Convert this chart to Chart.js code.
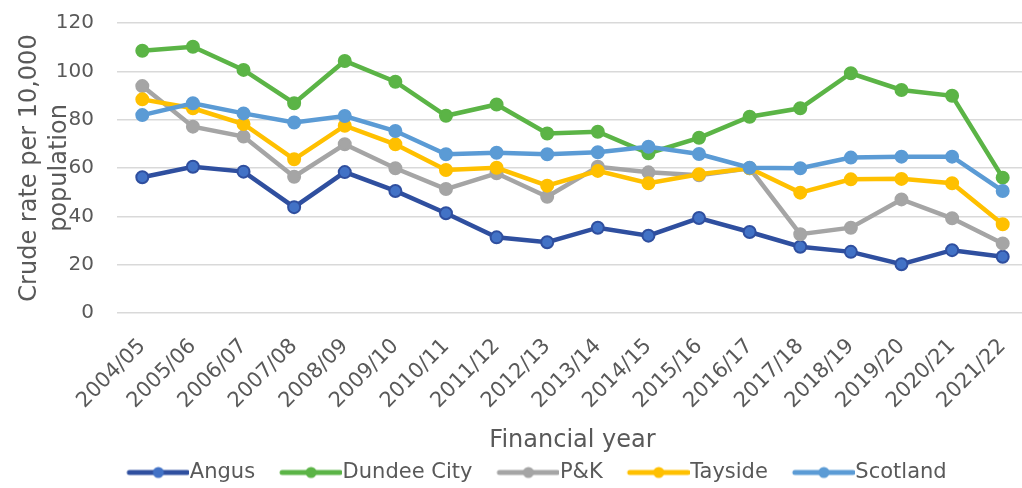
<!DOCTYPE html>
<html>
<head>
<meta charset="utf-8">
<script src="https://cdn.jsdelivr.net/npm/chart.js@4.4.0/dist/chart.umd.min.js"></script>
<style>
  html, body { margin: 0; padding: 0; background: #fff; overflow: hidden; }
  #wrap { width: 1036px; height: 488px; }
</style>
</head>
<body>
<div id="wrap"><canvas id="myChart"></canvas></div>
<script>
var years = ['2004/05', '2005/06', '2006/07', '2007/08', '2008/09', '2009/10', '2010/11', '2011/12', '2012/13',
  '2013/14', '2014/15', '2015/16', '2016/17', '2017/18', '2018/19', '2019/20', '2020/21', '2021/22'];

var angus = [56.2, 60.5, 58.5, 43.8, 58.3, 50.5, 41.3, 31.3, 29.3, 35.3, 32.0, 39.3, 33.5, 27.4, 25.3, 20.2, 26.0, 23.3];
var dundee = [108.5, 110.2, 100.6, 86.8, 104.3, 95.7, 81.6, 86.3, 74.3, 75.0, 66.1, 72.5, 81.2, 84.7, 99.2, 92.3, 89.9, 56.0];
var pk = [93.9, 77.1, 73.0, 56.4, 69.8, 59.9, 51.3, 57.8, 48.1, 60.5, 58.2, 57.0, 59.9, 32.6, 35.3, 47.0, 39.2, 28.8];
var tayside = [88.4, 84.7, 78.2, 63.6, 77.5, 69.8, 59.2, 60.1, 52.7, 58.8, 53.7, 57.4, 59.9, 49.8, 55.3, 55.5, 53.7, 36.7];
var scotland = [81.9, 86.8, 82.6, 78.8, 81.5, 75.3, 65.7, 66.3, 65.7, 66.5, 68.8, 65.8, 60.1, 59.9, 64.3, 64.7, 64.7, 50.5];

var yTicks = [0, 20, 40, 60, 80, 100, 120];

var textColor = '#595959';
var fontName = "'DejaVu Sans', sans-serif";

// line + dot image used as the legend symbol (blank on the left, runs up to the text)
function legendIcon(lineColor, dotColor) {
    var c = document.createElement('canvas');
    c.width = 90;
    c.height = 14;
    var g = c.getContext('2d');
    g.strokeStyle = lineColor;
    g.lineWidth = 5;
    g.lineCap = 'round';
    g.beginPath();
    g.moveTo(30, 7);
    g.lineTo(88, 7);
    g.stroke();
    g.fillStyle = dotColor;
    g.beginPath();
    g.arc(59, 7, 5.5, 0, Math.PI * 2);
    g.fill();
    return c;
}

function series(label, values, line, dot, order) {
    return {
        label: label,
        data: values,
        borderColor: line,
        backgroundColor: dot,
        pointBackgroundColor: dot,
        pointBorderColor: line,
        pointBorderWidth: 2,
        pointRadius: 6,
        pointHoverRadius: 6,
        borderWidth: 4.5,
        tension: 0,
        order: order,
        icon: legendIcon(line, dot)
    };
}

// nudge the legend a little right and down, like the original
var legendNudge = {
    id: 'legendNudge',
    afterLayout: function(ch) {
        var lg = ch.legend;
        if (!lg) return;
        lg.left += 26;
        lg.top += 5;
        lg.bottom += 5;
    }
};

const ctxc = document.getElementById('myChart');
const chart = new Chart(ctxc, {
    type: 'line',
    data: {
        labels: years,
        datasets: [
            series('Angus', angus, '#2F4F9F', '#4272C6', 5),
            series('Dundee City', dundee, '#5BB446', '#5BB446', 4),
            series('P&K', pk, '#A5A5A5', '#A5A5A5', 3),
            series('Tayside', tayside, '#FFC000', '#FFC000', 2),
            series('Scotland', scotland, '#5B9BD5', '#5B9BD5', 1)
        ]
    },
    plugins: [legendNudge],
    options: {
        responsive: true,
        maintainAspectRatio: false,
        animation: false,
        layout: { padding: { top: 23, right: 6, bottom: 0, left: 0 } },
        scales: {
            x: {
                offset: true,
                grid: { display: false },
                border: { display: false },
                ticks: {
                    color: textColor,
                    font: { family: fontName, size: 21 },
                    minRotation: 45,
                    maxRotation: 45,
                    autoSkip: false,
                    padding: 13
                },
                title: {
                    display: true,
                    text: 'Financial year',
                    color: textColor,
                    font: { family: fontName, size: 24, lineHeight: 1.1 },
                    padding: { top: 0, bottom: -4 }
                },
                afterFit: function(scale) {
                    scale.height = 137;
                    scale.paddingTop = 0;
                    scale.paddingBottom = 0;
                }
            },
            y: {
                min: 0,
                max: 120,
                afterBuildTicks: function(scale) {
                    scale.ticks = yTicks.map(function(v) { return { value: v }; });
                },
                grid: { color: '#D9D9D9', lineWidth: 1.5, drawTicks: false },
                border: { display: false },
                ticks: {
                    color: textColor,
                    font: { family: fontName, size: 20 },
                    padding: 23
                },
                title: {
                    display: true,
                    text: ['Crude rate per 10,000', 'population'],
                    color: textColor,
                    font: { family: fontName, size: 24, lineHeight: 1.25 },
                    padding: { top: 15, bottom: 0 }
                },
                afterFit: function(scale) {
                    scale.width = 117;
                    scale.paddingTop = 0;
                    scale.paddingBottom = 0;
                }
            }
        },
        plugins: {
            legend: {
                position: 'bottom',
                labels: {
                    color: textColor,
                    font: { family: fontName, size: 21 },
                    usePointStyle: true,
                    pointStyleWidth: 70,
                    padding: 7,
                    sort: function(a, b) { return a.datasetIndex - b.datasetIndex; },
                    generateLabels: function(ch) {
                        var items = Chart.defaults.plugins.legend.labels.generateLabels(ch);
                        items.forEach(function(it) {
                            it.pointStyle = ch.data.datasets[it.datasetIndex].icon;
                        });
                        return items;
                    }
                }
            },
            tooltip: { enabled: false }
        }
    }
});
</script>
</body>
</html>
